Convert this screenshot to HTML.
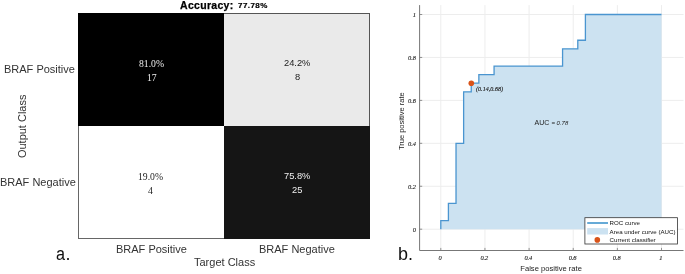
<!DOCTYPE html>
<html><head><meta charset="utf-8"><style>
html,body{margin:0;padding:0;background:#fff;}
body{width:685px;height:274px;position:relative;overflow:hidden;font-family:"Liberation Sans",sans-serif;}
.a{position:absolute;white-space:nowrap;line-height:1;will-change:transform;}
.cell{position:absolute;}
.lab{font-size:11px;color:#333;}
.ser{font-family:"Liberation Serif",serif;font-size:9.7px;}
.san{font-size:9.3px;}
</style></head><body>
<div class="a" style="left:180.3px;top:-0.4px;font-weight:bold;font-size:10.5px;letter-spacing:0.3px;color:#000;-webkit-text-stroke:0.25px #000;">Accuracy:</div>
<div class="a" style="left:237.6px;top:1.8px;font-weight:bold;font-size:8px;letter-spacing:0.45px;color:#000;-webkit-text-stroke:0.2px #000;">77.78%</div>

<div class="cell" style="left:78px;top:13px;width:146px;height:113px;background:#000;"></div>
<div class="cell" style="left:224px;top:13px;width:146px;height:113px;background:#eaeaea;box-sizing:border-box;border-top:1px solid #555;border-right:1px solid #555;"></div>
<div class="cell" style="left:78px;top:126px;width:146px;height:112.7px;background:#fff;box-sizing:border-box;border-left:1px solid #666;border-bottom:1px solid #666;"></div>
<div class="cell" style="left:224px;top:126px;width:146px;height:112.7px;background:#151515;"></div>

<div class="a ser" style="left:138.6px;top:59px;color:#eee;">81.0%</div>
<div class="a ser" style="left:146.6px;top:73px;color:#eee;">17</div>
<div class="a san" style="left:283.6px;top:59.2px;color:#222;">24.2%</div>
<div class="a san" style="left:294.5px;top:72.9px;color:#222;">8</div>
<div class="a ser" style="left:137.7px;top:172px;color:#222;">19.0%</div>
<div class="a ser" style="left:148.3px;top:185.8px;color:#222;">4</div>
<div class="a san" style="left:283.6px;top:172px;color:#eee;">75.8%</div>
<div class="a san" style="left:291.8px;top:186px;color:#eee;">25</div>

<div class="a lab" style="left:3.8px;top:64.1px;">BRAF Positive</div>
<div class="a lab" style="left:-0.4px;top:177.3px;">BRAF Negative</div>
<svg style="position:absolute;left:0;top:0" width="40" height="274"><text transform="translate(26.1,126.3) rotate(-90)" text-anchor="middle" font-family="Liberation Sans" font-size="11" fill="#333">Output Class</text></svg>
<div class="a lab" style="left:115.8px;top:243.8px;">BRAF Positive</div>
<div class="a lab" style="left:259.3px;top:244px;">BRAF Negative</div>
<div class="a lab" style="left:193.7px;top:256.7px;">Target Class</div>
<div class="a" style="left:55.5px;top:244.8px;font-size:18px;color:#111;"><span style="display:inline-block;transform:scaleX(0.9);transform-origin:0 0;margin-right:-0.6px;">a</span>.</div>
<div class="a" style="left:397.5px;top:244.7px;font-size:18px;color:#111;">b.</div>

<svg style="position:absolute;left:0;top:0" width="685" height="274" viewBox="0 0 685 274">
<g stroke="#ededed" stroke-width="1"><line x1="440.80" y1="5.1" x2="440.80" y2="250.5"/><line x1="419.6" y1="229.20" x2="683.5" y2="229.20"/><line x1="484.94" y1="5.1" x2="484.94" y2="250.5"/><line x1="419.6" y1="186.26" x2="683.5" y2="186.26"/><line x1="529.08" y1="5.1" x2="529.08" y2="250.5"/><line x1="419.6" y1="143.32" x2="683.5" y2="143.32"/><line x1="573.22" y1="5.1" x2="573.22" y2="250.5"/><line x1="419.6" y1="100.38" x2="683.5" y2="100.38"/><line x1="617.36" y1="5.1" x2="617.36" y2="250.5"/><line x1="419.6" y1="57.44" x2="683.5" y2="57.44"/><line x1="661.50" y1="5.1" x2="661.50" y2="250.5"/><line x1="419.6" y1="14.50" x2="683.5" y2="14.50"/></g>
<polygon points="440.80,229.20 440.80,220.61 448.41,220.61 448.41,203.44 456.02,203.44 456.02,143.32 463.63,143.32 463.63,91.79 471.24,91.79 471.24,83.20 478.85,83.20 478.85,74.62 494.07,74.62 494.07,66.03 562.57,66.03 562.57,48.85 577.79,48.85 577.79,40.26 585.40,40.26 585.40,14.50 661.50,14.50 661.50,229.20" fill="#cce2f1" stroke="none"/>
<polyline points="440.80,229.20 440.80,220.61 448.41,220.61 448.41,203.44 456.02,203.44 456.02,143.32 463.63,143.32 463.63,91.79 471.24,91.79 471.24,83.20 478.85,83.20 478.85,74.62 494.07,74.62 494.07,66.03 562.57,66.03 562.57,48.85 577.79,48.85 577.79,40.26 585.40,40.26 585.40,14.50 661.50,14.50" fill="none" stroke="#4a95d0" stroke-width="1.3"/>
<line x1="419.6" y1="5.1" x2="419.6" y2="250.5" stroke="#777" stroke-width="1"/>
<line x1="419.6" y1="250.5" x2="683.5" y2="250.5" stroke="#777" stroke-width="1"/>
<g stroke="#777" stroke-width="0.8"><line x1="440.80" y1="250.5" x2="440.80" y2="247.9"/><line x1="419.6" y1="229.20" x2="422.20000000000005" y2="229.20"/><line x1="484.94" y1="250.5" x2="484.94" y2="247.9"/><line x1="419.6" y1="186.26" x2="422.20000000000005" y2="186.26"/><line x1="529.08" y1="250.5" x2="529.08" y2="247.9"/><line x1="419.6" y1="143.32" x2="422.20000000000005" y2="143.32"/><line x1="573.22" y1="250.5" x2="573.22" y2="247.9"/><line x1="419.6" y1="100.38" x2="422.20000000000005" y2="100.38"/><line x1="617.36" y1="250.5" x2="617.36" y2="247.9"/><line x1="419.6" y1="57.44" x2="422.20000000000005" y2="57.44"/><line x1="661.50" y1="250.5" x2="661.50" y2="247.9"/><line x1="419.6" y1="14.50" x2="422.20000000000005" y2="14.50"/></g>
<g font-family="Liberation Serif" font-style="italic" font-size="6.4" letter-spacing="-0.1" fill="#222" stroke="#222" stroke-width="0.12"><text x="440.10" y="260.4" text-anchor="middle">0</text><text x="415.8" y="232.10" text-anchor="end">0</text><text x="484.24" y="260.4" text-anchor="middle">0.2</text><text x="415.8" y="189.16" text-anchor="end">0.2</text><text x="528.38" y="260.4" text-anchor="middle">0.4</text><text x="415.8" y="146.22" text-anchor="end">0.4</text><text x="572.52" y="260.4" text-anchor="middle">0.6</text><text x="415.8" y="103.28" text-anchor="end">0.6</text><text x="616.66" y="260.4" text-anchor="middle">0.8</text><text x="415.8" y="60.34" text-anchor="end">0.8</text><text x="660.80" y="260.4" text-anchor="middle">1</text><text x="415.8" y="17.40" text-anchor="end">1</text></g>
<circle cx="471.3" cy="83.3" r="2.8" fill="#d95319"/>
<text x="476" y="90.6" font-family="Liberation Serif" font-style="italic" font-size="6" letter-spacing="0.05" fill="#222" stroke="#222" stroke-width="0.15">(0.14,0.68)</text>
<text x="534.5" y="124.9" font-family="Liberation Sans" font-size="7" fill="#222">AUC</text>
<text x="551.4" y="124.8" font-family="Liberation Sans" font-style="italic" font-size="6" fill="#222">= 0.78</text>
<text x="0" y="0" transform="translate(403.6,121.2) rotate(-90)" text-anchor="middle" font-family="Liberation Sans" font-size="7.5" fill="#222">True positive rate</text>
<text x="551.1" y="271.3" text-anchor="middle" font-family="Liberation Sans" font-size="7.6" fill="#222">False positive rate</text>
<rect x="584.9" y="217.7" width="92.6" height="26.3" fill="#fff" stroke="#333" stroke-width="0.8"/>
<line x1="587.2" y1="223" x2="608" y2="223" stroke="#0072bd" stroke-width="1.2"/>
<rect x="587.2" y="228.1" width="20.8" height="6.4" fill="#cce2f1"/>
<circle cx="597.3" cy="239.9" r="2.8" fill="#d95319"/>
<g font-family="Liberation Sans" font-size="6.15" fill="#111">
<text x="609.6" y="225.3">ROC curve</text>
<text x="609.6" y="234.1">Area under curve (AUC)</text>
<text x="609.6" y="242.1">Current classifier</text>
</g>
</svg>
</body></html>
